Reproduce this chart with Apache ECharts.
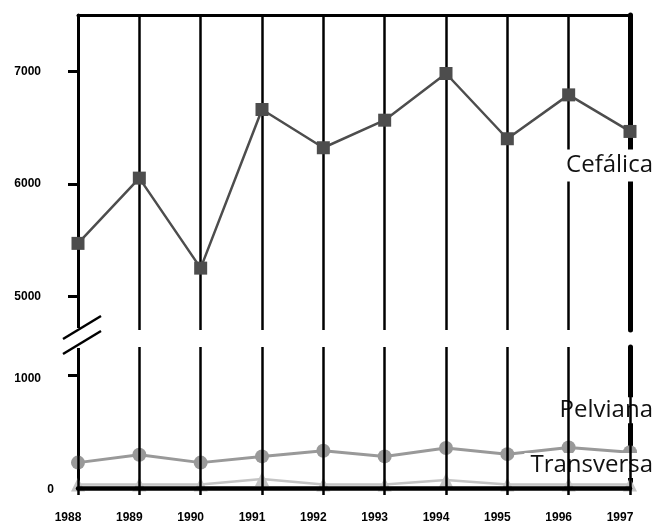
<!DOCTYPE html>
<html>
<head>
<meta charset="utf-8">
<script src="https://cdn.jsdelivr.net/npm/echarts@6/dist/echarts.min.js"></script>
<style>html,body{margin:0;padding:0;background:#fff;}#c{width:660px;height:525px;}</style>
</head>
<body>
<div id="c"></div>
<script>
const years = ['1988','1989','1990','1991','1992','1993','1994','1995','1996','1997'];
const cefalica = [5470, 6050, 5250, 6660, 6320, 6565, 6980, 6400, 6790, 6465];
const pelviana = [225, 295, 225, 280, 330, 280, 355, 300, 360, 318];
const transversa = [30, 30, 30, 80, 30, 30, 70, 30, 30, 30];
const upperTicks = [5000, 6000, 7000];
const lowerTicks = [0, 1000];

const tickFont = {fontFamily: 'Liberation Sans', fontWeight: 'bold', fontSize: 12, color: '#000'};
const nameFont = {fontFamily: 'Open Sans', fontSize: 24, color: '#111', backgroundColor: '#fff'};

const chart = echarts.init(document.getElementById('c'), null, {renderer: 'canvas'});

const catBase = {
  type: 'category', data: years, boundaryGap: false,
  splitLine: {show: true, lineStyle: {color: '#000', width: 2.5}},
  axisLabel: {show: false}, axisTick: {show: false}
};

const option = {
  animation: false,
  backgroundColor: '#fff',
  grid: [
    {left: 78, right: 30, top: 15, height: 315},
    {left: 78, right: 30, top: 347, height: 141}
  ],
  xAxis: [
    Object.assign({}, catBase, {gridIndex: 0, position: 'top',
      axisLine: {show: true, lineStyle: {color: '#000', width: 3}}}),
    Object.assign({}, catBase, {gridIndex: 1, position: 'bottom', z: 5,
      axisLine: {show: true, lineStyle: {color: '#000', width: 4.5}},
      axisTick: {show: true, inside: false, length: 7, lineStyle: {color: '#000', width: 2.5}},
      axisLabel: Object.assign({show: true, margin: 24, align: 'center', padding: [0, 20, 0, 0]}, tickFont)
    })
  ],
  yAxis: [
    {type: 'value', gridIndex: 0, position: 'left', min: 4700, max: 7500,
      splitLine: {show: false},
      axisLine: {show: true, lineStyle: {color: '#000', width: 3}},
      axisTick: {show: true, length: 10, customValues: upperTicks, lineStyle: {color: '#000', width: 3}},
      axisLabel: Object.assign({show: true, margin: 37, customValues: upperTicks, padding: [7, 0, 0, 0],
        formatter: function (v) { return String(v); }}, tickFont)
    },
    {type: 'value', gridIndex: 0, position: 'right', min: 4700, max: 7500,
      splitLine: {show: false}, axisTick: {show: false}, axisLabel: {show: false},
      axisLine: {show: true, lineStyle: {color: '#000', width: 5}}
    },
    {type: 'value', gridIndex: 1, position: 'left', min: 0, max: 1250,
      splitLine: {show: false},
      axisLine: {show: true, lineStyle: {color: '#000', width: 3}},
      axisTick: {show: true, length: 10, customValues: [1000], lineStyle: {color: '#000', width: 3}},
      axisLabel: Object.assign({show: true, margin: 24, customValues: lowerTicks,
        formatter: function (v) { return v === 0 ? '{z|0}' : '{n|' + String(v) + '}'; },
        rich: {
          z: Object.assign({padding: [4, 0, 0, 0]}, tickFont),
          n: Object.assign({padding: [7, 13, 0, 0]}, tickFont)
        }
      }, tickFont)
    },
    {type: 'value', gridIndex: 1, position: 'right', min: 0, max: 1250,
      splitLine: {show: false}, axisTick: {show: false}, axisLabel: {show: false},
      axisLine: {show: true, lineStyle: {color: '#000', width: 5}}
    }
  ],
  series: [
    {name: 'Cefálica', type: 'line', xAxisIndex: 0, yAxisIndex: 0, data: cefalica,
      symbol: 'rect', symbolSize: 13, z: 3,
      itemStyle: {color: '#4d4d4d'}, lineStyle: {color: '#4d4d4d', width: 2.5},
      endLabel: Object.assign({show: true, formatter: '{a}', align: 'right', verticalAlign: 'middle',
        offset: [15, 34], padding: [4, 0, 4, 6]}, nameFont)
    },
    {name: 'Pelviana', type: 'line', xAxisIndex: 1, yAxisIndex: 2, data: pelviana,
      symbol: 'circle', symbolSize: 14, z: 3,
      itemStyle: {color: '#999999'}, lineStyle: {color: '#999999', width: 3},
      endLabel: Object.assign({show: true, formatter: '{a}', align: 'right', verticalAlign: 'middle',
        offset: [15, -42], padding: [1, 0, 1, 6]}, nameFont)
    },
    {name: 'Transversa', type: 'line', xAxisIndex: 1, yAxisIndex: 2, data: transversa,
      symbol: 'triangle', symbolSize: 14, z: 3,
      itemStyle: {color: '#c4c4c4'}, lineStyle: {color: '#c4c4c4', width: 2.5},
      endLabel: Object.assign({show: true, formatter: '{a}', align: 'right', verticalAlign: 'middle',
        offset: [15, -19], padding: [1, 0, 0, 6]}, nameFont)
    }
  ]
};
chart.setOption(option);

// axis-break marks, positioned from the axes themselves
const pTop = chart.convertToPixel({xAxisIndex: 0, yAxisIndex: 0}, [0, 4700]);
const pBot = chart.convertToPixel({xAxisIndex: 1, yAxisIndex: 2}, [0, 1250]);
const yA = pTop[1] - 2.5, yB = pBot[1] - 4.5, x0 = pTop[0];
chart.setOption({
  graphic: [
    {type: 'rect', z: 10, shape: {x: x0 - 3, y: pTop[1] - 2, width: 6, height: pBot[1] - pTop[1] + 3}, style: {fill: '#fff'}},
    {type: 'line', z: 11, shape: {x1: x0 - 15, y1: yA + 11.5, x2: x0 + 23, y2: yA - 11.5}, style: {stroke: '#000', lineWidth: 2.5}},
    {type: 'line', z: 11, shape: {x1: x0 - 15, y1: yB + 11.5, x2: x0 + 23, y2: yB - 11.5}, style: {stroke: '#000', lineWidth: 2.5}}
  ]
});
</script>
</body>
</html>
